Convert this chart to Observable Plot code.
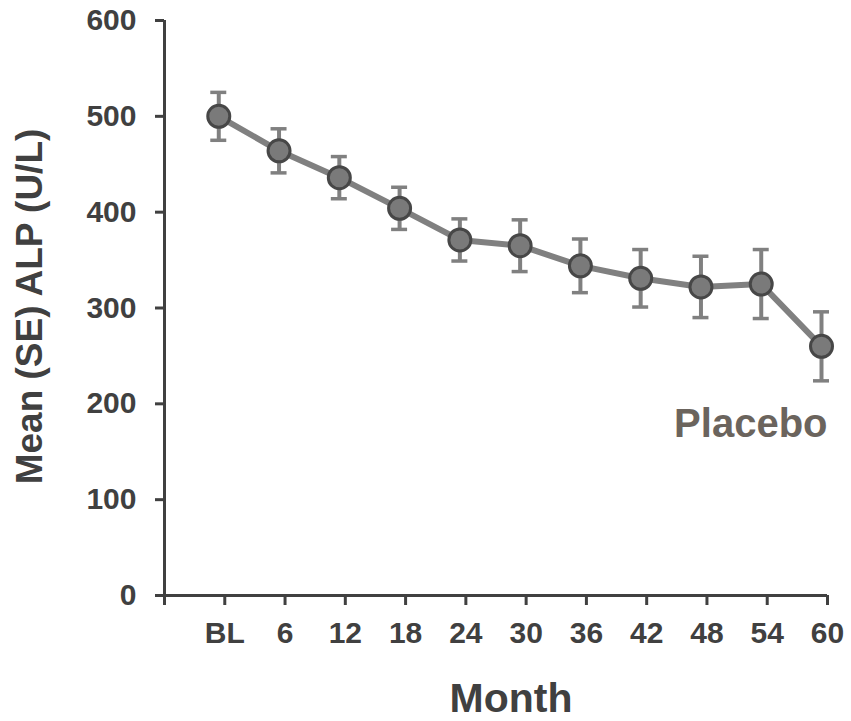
<!DOCTYPE html>
<html>
<head>
<meta charset="utf-8">
<script src="https://cdn.jsdelivr.net/npm/d3@7"></script>
<script src="https://cdn.jsdelivr.net/npm/@observablehq/plot@0.6"></script>
<style>
  html, body { margin: 0; padding: 0; background: #ffffff; }
  #chart svg { display: block; }
</style>
</head>
<body>
<div id="chart"></div>
<script>
// Visit months (0 = baseline) and their axis labels
const months = [0, 6, 12, 18, 24, 30, 36, 42, 48, 54, 60];
const monthLabels = ["BL", "6", "12", "18", "24", "30", "36", "42", "48", "54", "60"];

// Mean ALP (U/L) and standard error at each visit, placebo arm
const meanALP = [500, 464, 436, 404, 371, 365, 344, 331, 322, 325, 260];
const seALP   = [25, 23, 22, 22, 22, 27, 28, 30, 32, 36, 36];

// Y axis ticks
const yTicks = [0, 100, 200, 300, 400, 500, 600];

const seriesName = "Placebo";
const xTitle = "Month";
const yTitle = "Mean (SE) ALP (U/L)";

const rows = months.map((m, i) => ({
  month: m,
  mean: meanALP[i],
  lo: meanALP[i] - seALP[i],
  hi: meanALP[i] + seALP[i]
}));

const axisColor = "#404040";
const seriesGray = "#808080";
const shift = -6; // markers sit slightly left of the category ticks

const labelFor = new Map(months.map((m, i) => [m, monthLabels[i]]));

const chart = Plot.plot({
  width: 851,
  height: 721,
  marginTop: 20,
  marginBottom: 126,
  marginLeft: 164,
  marginRight: 24,
  style: {fontFamily: "'Liberation Sans', Arial, sans-serif", fontWeight: "bold", color: axisColor},
  x: {domain: [-6, 60]},
  y: {domain: [0, 600]},
  marks: [
    // axes
    Plot.ruleX([-6], {y1: 0, y2: 600, stroke: axisColor, strokeWidth: 3}),
    Plot.ruleY([0], {x1: -6, x2: 60, stroke: axisColor, strokeWidth: 3}),
    Plot.axisY({
      ticks: yTicks, tickSize: 9, tickPadding: 19, fontSize: 30,
      color: axisColor, strokeWidth: 3, label: null
    }),
    Plot.axisX({
      ticks: [-6, ...months], tickSize: 10, tickPadding: 16, fontSize: 30,
      color: axisColor, strokeWidth: 3, label: null,
      tickFormat: d => labelFor.get(d) ?? ""
    }),
    // series
    Plot.line(rows, {x: "month", y: "mean", stroke: seriesGray, strokeWidth: 6, dx: shift}),
    Plot.ruleX(rows, {x: "month", y1: "lo", y2: "hi", stroke: seriesGray, strokeWidth: 4, dx: shift}),
    Plot.ruleY(rows, {y: "lo", x1: "month", x2: "month", insetLeft: -8, insetRight: -8, stroke: seriesGray, strokeWidth: 3.5, dx: shift}),
    Plot.ruleY(rows, {y: "hi", x1: "month", x2: "month", insetLeft: -8, insetRight: -8, stroke: seriesGray, strokeWidth: 3.5, dx: shift}),
    Plot.dot(rows, {x: "month", y: "mean", r: 11, fill: "#7a7a7a", stroke: "#474747", strokeWidth: 3, dx: shift}),
    // series label and axis titles
    Plot.text([seriesName], {frameAnchor: "top-right", textAnchor: "end", lineAnchor: "middle", dy: 403.5, fontSize: 40, fill: "#6b645d"}),
    Plot.text([xTitle], {frameAnchor: "bottom", textAnchor: "middle", lineAnchor: "middle", dx: 15, dy: 103, fontSize: 41, fill: axisColor}),
    Plot.text([yTitle], {frameAnchor: "left", textAnchor: "middle", lineAnchor: "middle", rotate: -90, dx: -134, dy: -1.5, fontSize: 37, fill: axisColor})
  ]
});

document.getElementById("chart").appendChild(chart);
</script>
</body>
</html>
